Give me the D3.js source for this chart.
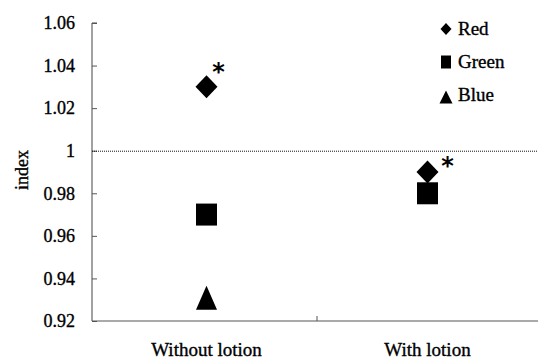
<!DOCTYPE html>
<html>
<head>
<meta charset="utf-8">
<script src="https://cdn.jsdelivr.net/npm/d3@7"></script>
<style>
  body { margin: 0; background: #fff; }
  svg text { font-family: "Times New Roman", "Liberation Serif", Tinos, "DejaVu Serif", serif; fill: #000; }
  svg text.lbl { stroke: #000; stroke-width: 0.35px; }
</style>
</head>
<body>
<div id="chart"></div>
<script>
// categories and values
const categories = ["Without lotion", "With lotion"];
const seriesNames = ["Red", "Green", "Blue"];
const redValues = [1.03, 0.99];
const greenValues = [0.97, 0.98];
const blueValues = [0.93, null];
const significant = [true, true]; // asterisk next to Red
const yTicks = [0.92, 0.94, 0.96, 0.98, 1, 1.02, 1.04, 1.06];

const width = 538, height = 362;
const mLeft = 92, mTop = 23, mBottom = 321;
const serif = '"Times New Roman", "Liberation Serif", Tinos, "DejaVu Serif", serif';

const svg = d3.select("#chart").append("svg")
    .attr("width", width)
    .attr("height", height);

const x = d3.scaleBand().domain(categories).range([96, 538]);
const y = d3.scaleLinear().domain([0.92, 1.06]).range([mBottom, mTop]);
const cx = c => x(c) + x.bandwidth() / 2;

// marker shapes (width, height in px)
const diamond = (w, h) => ({ draw(ctx) {
    ctx.moveTo(0, -h / 2); ctx.lineTo(w / 2, 0); ctx.lineTo(0, h / 2); ctx.lineTo(-w / 2, 0); ctx.closePath();
}});
const rect = (w, h) => ({ draw(ctx) {
    ctx.rect(-w / 2, -h / 2, w, h);
}});
const tri = (w, h) => ({ draw(ctx) {
    ctx.moveTo(0, -h / 2); ctx.lineTo(w / 2, h / 2); ctx.lineTo(-w / 2, h / 2); ctx.closePath();
}});

// y axis (ticks point inward)
const yAxis = d3.axisLeft(y).tickValues(yTicks).tickSize(-5).tickPadding(17)
    .tickFormat(d => d === 1 ? "1" : d3.format(".2f")(d));
const gy = svg.append("g").attr("transform", `translate(${mLeft},0)`).call(yAxis)
    .attr("font-family", serif);
gy.select(".domain").attr("stroke", "#444").attr("d", `M5,${mTop}H0V${mBottom}`);
gy.selectAll(".tick line").attr("stroke", "#555");
gy.selectAll(".tick text").attr("class", "lbl").attr("font-size", 18).style("font-family", serif);

// x axis with a tick between categories
svg.append("line")
    .attr("x1", mLeft).attr("x2", width)
    .attr("y1", mBottom).attr("y2", mBottom)
    .attr("stroke", "#555");
svg.append("line")
    .attr("x1", x("With lotion")).attr("x2", x("With lotion"))
    .attr("y1", mBottom).attr("y2", mBottom - 5)
    .attr("stroke", "#555");
svg.selectAll(".xlab").data(categories).enter().append("text")
    .attr("class", "xlab lbl")
    .attr("x", cx)
    .attr("y", 356)
    .attr("text-anchor", "middle")
    .attr("font-size", 19)
    .style("font-family", serif)
    .text(d => d);

// axis title
svg.append("text")
    .attr("class", "lbl")
    .attr("transform", "rotate(-90)")
    .attr("x", -170).attr("y", 28)
    .attr("text-anchor", "middle")
    .attr("font-size", 18)
    .style("font-family", serif)
    .text("index");

// reference line at 1
svg.append("line")
    .attr("x1", mLeft).attr("x2", width)
    .attr("y1", y(1) + 0.5).attr("y2", y(1) + 0.5)
    .attr("stroke", "#111").attr("stroke-width", 1)
    .attr("stroke-dasharray", "1,1");

const shapes = {
    Red: d3.symbol().type(diamond(22, 23)),
    Green: d3.symbol().type(rect(21, 22)),
    Blue: d3.symbol().type(tri(21, 24))
};
const seriesValues = { Red: redValues, Green: greenValues, Blue: blueValues };

// points
seriesNames.forEach(name => {
    const pts = categories.map((c, i) => ({ c, v: seriesValues[name][i] }))
        .filter(p => p.v !== null);
    svg.selectAll(".pt-" + name).data(pts).enter().append("path")
        .attr("class", "pt-" + name)
        .attr("d", shapes[name]())
        .attr("transform", d => `translate(${cx(d.c)},${y(d.v) - (name === "Blue" ? 2 : 0)})`)
        .attr("fill", "#000");
});

// asterisks beside the Red markers
const starOffset = [[12, -20], [20, -11]];
svg.selectAll(".star").data(categories.filter((c, i) => significant[i])).enter().append("text")
    .attr("class", "star")
    .attr("x", (d, i) => cx(d) + starOffset[i][0])
    .attr("y", (d, i) => y(redValues[categories.indexOf(d)]) + starOffset[i][1] + 13)
    .attr("text-anchor", "middle")
    .attr("font-size", 24)
    .style("font-family", "DejaVu Sans")
    .attr("font-weight", "bold")
    .text("*");

// legend
const legendShapes = { Red: diamond(11, 12), Green: rect(10, 13), Blue: tri(13, 13) };
const legend = svg.append("g").attr("transform", "translate(446,29)");
seriesNames.forEach((name, i) => {
    const g = legend.append("g").attr("transform", `translate(0,${i * 33})`);
    g.append("path")
        .attr("d", d3.symbol().type(legendShapes[name])())
        .attr("transform", `translate(0,${name === "Blue" ? 2 : 0})`)
        .attr("fill", "#000");
    g.append("text")
        .attr("class", "lbl")
        .attr("x", 12).attr("y", 6)
        .attr("font-size", 19)
        .style("font-family", serif)
        .text(name);
});
</script>
</body>
</html>
